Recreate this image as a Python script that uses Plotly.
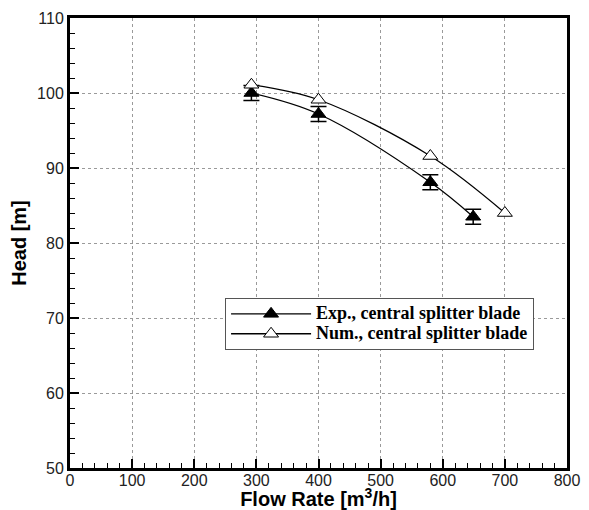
import plotly.graph_objects as go

exp_flow = [292, 400, 580, 649]
exp_head = [100.0, 97.2, 88.1, 83.5]
exp_err = [1.0, 1.0, 1.0, 1.0]
num_flow = [292, 400, 580, 700]
num_head = [101.1, 99.1, 91.6, 84.0]

legend_style = '<span style="font-size:18px"><b>{}</b></span>'

fig = go.Figure()
fig.add_trace(go.Scatter(
    x=exp_flow, y=exp_head, mode="lines+markers",
    name=legend_style.format("Exp., central splitter blade"),
    line=dict(color="black", width=1.3, shape="spline", smoothing=1),
    marker=dict(symbol="triangle-up", size=13, color="black", line=dict(color="black", width=1)),
    error_y=dict(type="data", array=exp_err, visible=True, color="black", thickness=1.5, width=8),
))
fig.add_trace(go.Scatter(
    x=num_flow, y=num_head, mode="lines+markers",
    name=legend_style.format("Num., central splitter blade"),
    line=dict(color="black", width=1.3, shape="spline", smoothing=1),
    marker=dict(symbol="triangle-up", size=13, color="white", line=dict(color="black", width=1)),
))

axis_common = dict(
    showline=True, linecolor="black", linewidth=3, mirror=True,
    ticks="inside", ticklen=9, tickwidth=2, tickcolor="black",
    showgrid=True, gridcolor="#9a9a9a", griddash="dot", gridwidth=1,
    zeroline=False, automargin=False,
    tickfont=dict(family="Liberation Sans, Arial", size=16, color="#222222"),
)
fig.update_xaxes(range=[0, 800], dtick=100, tick0=0, ticklabelstandoff=-4,
                 minor=dict(ticks="inside", ticklen=5, tickwidth=1, dtick=20, tickcolor="black", showgrid=False),
                 title=dict(text="<b>Flow Rate [m<sup>3</sup>/h]</b>", standoff=6,
                            font=dict(family="Liberation Sans, Arial", size=20, color="black")),
                 **axis_common)
fig.update_yaxes(range=[50, 110], dtick=10, tick0=50,
                 minor=dict(ticks="inside", ticklen=5, tickwidth=1, dtick=2, tickcolor="black", showgrid=False),
                 title=dict(text="<b>Head [m]</b>", standoff=6,
                            font=dict(family="Liberation Sans, Arial", size=20, color="black")),
                 **axis_common)

fig.update_layout(
    width=581, height=502,
    margin=dict(l=62, r=22, t=10, b=42, autoexpand=False),
    plot_bgcolor="white", paper_bgcolor="white",
    showlegend=True,
    legend=dict(
        x=0.312, y=0.378, xanchor="left", yanchor="top",
        bgcolor="white", bordercolor="#555555", borderwidth=1,
        font=dict(family="Liberation Serif, Times New Roman", size=13, color="black"),
        itemwidth=80, tracegroupgap=0,
    ),
)
fig.write_html("out.html")
